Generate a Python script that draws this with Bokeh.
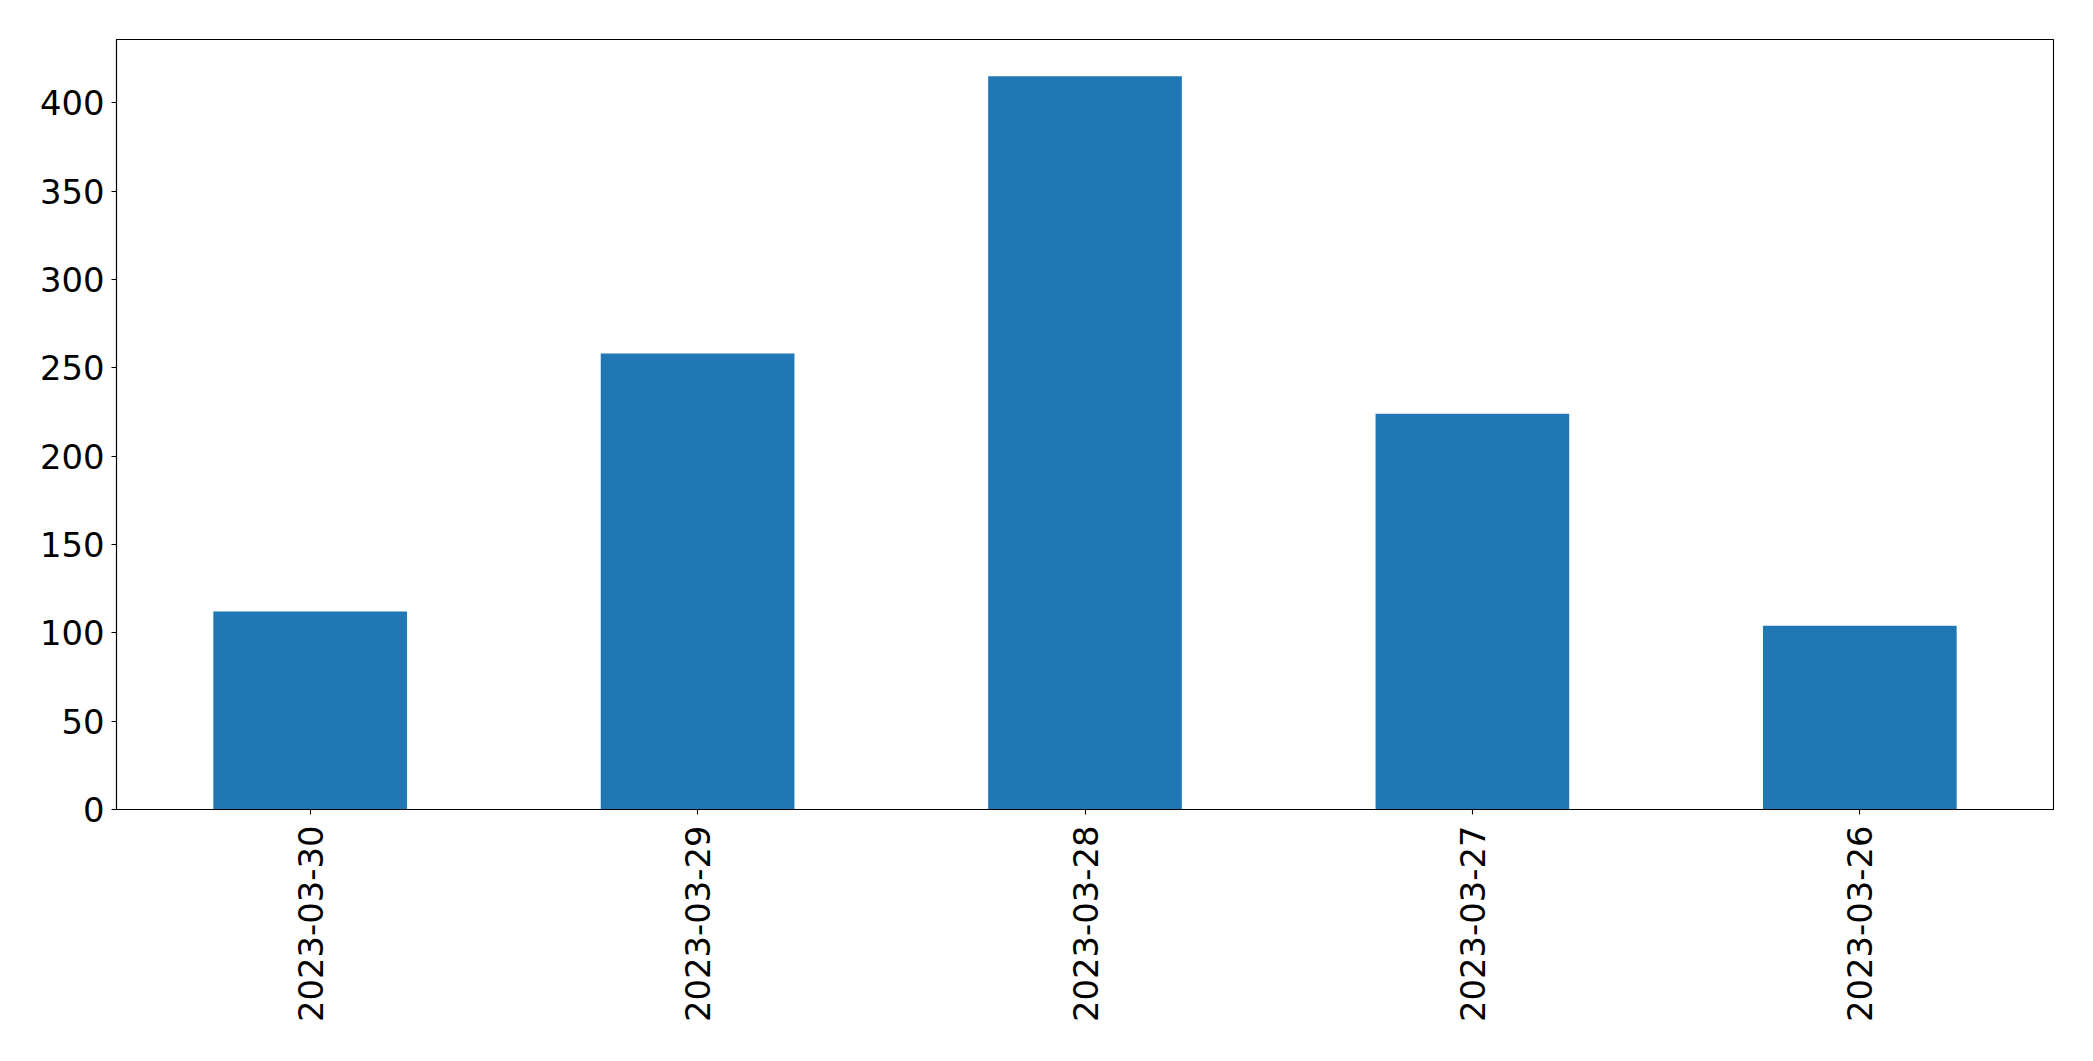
import math
from bokeh.plotting import figure
from bokeh.models import Range1d, FixedTicker
from bokeh.embed import file_html
from bokeh.resources import INLINE

dates = ["2023-03-30", "2023-03-29", "2023-03-28", "2023-03-27", "2023-03-26"]
counts = [112, 258, 415, 224, 104]
y_ticks = [0, 50, 100, 150, 200, 250, 300, 350, 400]

p = figure(x_range=dates, y_range=Range1d(0, max(counts) * 1.05),
           width=2093, height=1061, output_backend="svg", toolbar_location=None,
           min_border_left=116, min_border_right=40, min_border_top=39, min_border_bottom=252)

p.vbar(x=dates, top=counts, width=0.5, fill_color="#1f77b4", line_color=None)

p.xgrid.grid_line_color = None
p.ygrid.grid_line_color = None
p.outline_line_color = "black"
p.outline_line_width = 1.1
p.background_fill_color = "white"
p.border_fill_color = "white"

p.yaxis.ticker = FixedTicker(ticks=y_ticks)
for ax in (p.xaxis, p.yaxis):
    ax.axis_line_color = "black"
    ax.axis_line_width = 1.1
    ax.major_tick_line_color = "black"
    ax.major_tick_line_width = 1.1
    ax.major_tick_out = 5
    ax.major_tick_in = 0
    ax.minor_tick_line_color = None
    ax.major_label_text_font = "DejaVu Sans"
    ax.major_label_text_font_size = "33.8px"
    ax.major_label_text_color = "black"

p.yaxis.major_label_standoff = 7
p.xaxis.major_label_standoff = 11
p.xaxis.major_label_orientation = math.pi / 2

open("out.html", "w").write(file_html(p, INLINE))
